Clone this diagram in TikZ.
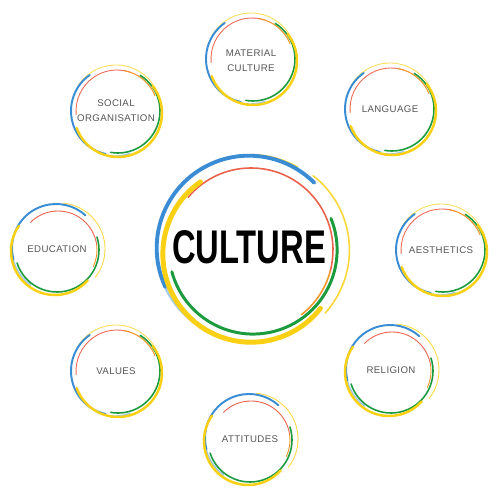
\documentclass[tikz,border=0pt]{standalone}
\usepackage{fontspec}
\usepackage{graphicx}
\setmainfont{Liberation Sans}
\newfontfamily\lblfont[LetterSpace=4]{Liberation Sans}
\definecolor{ylw}{RGB}{250,208,20}
\definecolor{blu}{RGB}{58,140,212}
\definecolor{red1}{RGB}{232,70,45}
\definecolor{orng}{RGB}{243,150,40}
\definecolor{grn}{RGB}{28,155,62}
\definecolor{txt}{RGB}{85,85,85}
\newcommand\ringarc[7]{\draw[#1, line width=#2*\lwm pt, line cap=round] (#3,#4) ++(#6:#5) arc[start angle=#6, end angle=#7, radius=#5];}
\newcommand\RingA[1]{\begin{scope}[shift={(#1)}]\def\lwm{1}
\ringarc{ylw!70}{0.5}{0}{1}{45}{150}{30}
\ringarc{red1!80}{0.5}{1}{0}{41}{185}{72}
\ringarc{orng}{0.6}{1}{0}{41}{80}{22}
\ringarc{grn}{0.9}{2}{0}{42}{58}{-100}
\ringarc{blu!50}{0.8}{-1}{-1}{44}{255}{290}
\ringarc{blu}{1.1}{-1}{0}{44}{125}{258}
\ringarc{ylw}{1.4}{2}{-2}{44}{200}{398}
\end{scope}}
\newcommand\RingB[1]{\begin{scope}[shift={(#1)}]\def\lwm{1}
\ringarc{ylw!80}{0.5}{2}{0}{46}{85}{-38}
\ringarc{blu!50}{0.8}{-1}{0}{44}{235}{195}
\ringarc{blu}{1.1}{-1}{1}{44}{195}{48}
\ringarc{red1!85}{0.5}{1}{-1}{39}{135}{8}
\ringarc{orng}{0.5}{1}{-1}{39}{8}{-25}
\ringarc{grn}{0.9}{0}{-1}{42}{198}{378}
\ringarc{ylw}{1.4}{-2}{-2}{44}{145}{318}
\end{scope}}
\newcommand\RingC[1]{\begin{scope}[shift={(#1)}, scale=2.05]\def\lwm{2}
\ringarc{ylw!85}{0.45}{2}{0}{46}{52}{-42}
\ringarc{ylw!85}{0.45}{0}{1}{45.5}{118}{60}
\ringarc{blu!45}{0.9}{-1}{1}{45}{240}{205}
\ringarc{blu}{1.1}{-1}{1}{45}{205}{45}
\ringarc{red1!85}{0.45}{0}{0}{40}{140}{-15}
\ringarc{orng}{0.45}{0}{0}{40}{-15}{-52}
\ringarc{grn}{0.85}{1}{0}{41}{195}{382}
\ringarc{ylw}{1.4}{0}{-2}{43}{125}{322}
\end{scope}}
\tikzset{lbl/.style={font=\lblfont\fontsize{5.5}{8.5}\selectfont, text=txt, align=center, inner sep=0pt}}
\begin{document}
\begin{tikzpicture}[x=0.02cm,y=0.02cm]
\fill[white] (0,0) rectangle (500,500);
\useasboundingbox (0,0) rectangle (500,500);
\node[inner sep=0pt] (cul) at (249,253) {\resizebox{3.08cm}{0.66cm}{\bfseries CULTURE}};
\node[lbl] (mat) at (251,439) {MATERIAL\\CULTURE};
\node[lbl] (lang) at (390,391) {LANGUAGE};
\node[lbl] (soc) at (116,389) {SOCIAL\\ORGANISATION};
\node[lbl] (edu) at (57,251) {EDUCATION};
\node[lbl] (aes) at (441,250) {AESTHETICS};
\node[lbl] (val) at (116,129) {VALUES};
\node[lbl] (rel) at (391,130) {RELIGION};
\node[lbl] (att) at (250,61) {ATTITUDES};
\coordinate (cc) at (251,250);
\coordinate (cmat) at (251,441);
\coordinate (clang) at (390,391);
\coordinate (csoc) at (116,389);
\coordinate (cedu) at (57,251);
\coordinate (caes) at (441,250);
\coordinate (cval) at (116,129);
\coordinate (crel) at (391,130);
\coordinate (catt) at (250,61);
\RingC{cc}
\RingA{cmat}
\RingA{clang}
\RingA{csoc}
\RingA{caes}
\RingA{cval}
\RingB{cedu}
\RingB{crel}
\RingB{catt}
\end{tikzpicture}
\end{document}
